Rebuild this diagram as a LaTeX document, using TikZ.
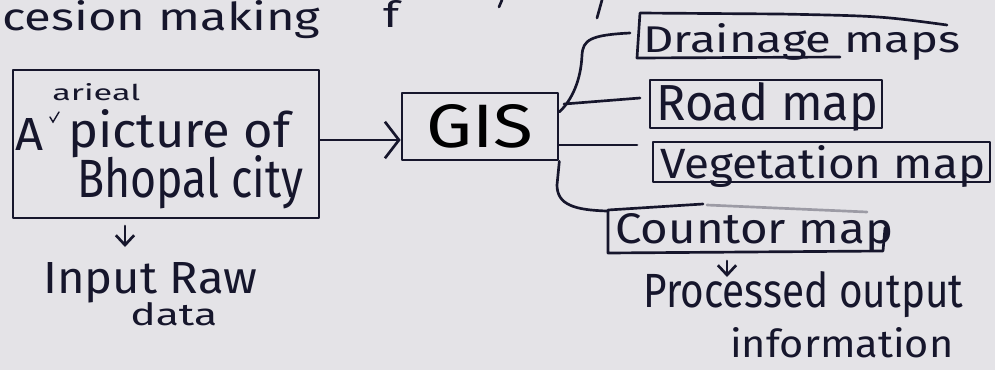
\documentclass[tikz,border=0pt]{standalone}
\usepackage{fontspec}
\setmainfont{Fira Sans}
\usetikzlibrary{arrows.meta}
\newdimen\px \px=0.025cm
\definecolor{paper}{HTML}{E4E3E7}
\definecolor{ink}{HTML}{16162C}
% handwritten-size label: width, height (in px) and text
\newcommand{\hw}[3]{\resizebox{#1\px}{#2\px}{#3}}
\tikzset{
  ln/.style={draw=ink, line width=1.9pt, line cap=round, line join=round},
  frame/.style={ln, rectangle, inner sep=0pt},
  hw/.style={inner sep=0pt, anchor=base west, text=ink},
  arr/.style={ln, -{Straight Barb[length=10pt, width=26pt]}},
  arrsmall/.style={ln, -{Straight Barb[length=7pt, width=13pt]}}
}
\begin{document}
\begin{tikzpicture}[x=0.025cm, y=-0.025cm]
\fill[paper] (0,0) rectangle (995,370);
\useasboundingbox (0,0) rectangle (995,370);

% heading fragment
\node[hw] (head) at (2,30) {\hw{318}{30}{cesion making}};
\node[hw] (fr) at (383,27) {\hw{16}{27}{f}};
\draw[ln] (502,0) -- (499,7);
\draw[ln] (602,0) -- (597,18);

% input image box
\node[frame, minimum width=306\px, minimum height=148\px] (photo) at (166,144) {};
\node[hw] (aer) at (52,100) {\hw{88}{17}{arieal}};
\node[hw] (la) at (15,150) {\hw{28}{32}{A}};
\draw[ink, line width=1pt, line cap=round] (50,117) -- (53,122) -- (59,112);
\node[hw] (pic) at (68,147) {\hw{222}{38}{picture of}};
\node[hw] (bho) at (77,197) {\hw{226}{42}{Bhopal city}};

% raw data
\coordinate (d0) at (125,226);
\coordinate (d1) at (125,247);
\draw[arrsmall] (d0) -- (d1);
\node[hw] (inp) at (43,293) {\hw{214}{31}{Input Raw}};
\node[hw] (dat) at (130,325) {\hw{87}{23}{data}};

% GIS
\node[frame, minimum width=156\px, minimum height=67\px] (gis) at (480,126.5) {\hw{107}{43}{GIS}};
\coordinate (a) at (0,140);
\draw[arr] (photo.east |- a) -- (gis.west |- a);

% output maps
\node[hw] (drain) at (643,52) {\hw{317}{29}{Drainage maps}};
\draw[ln] (947,25) .. controls (880,16) .. (780,14) -- (640,13) -- (637,58) -- (840,57);

\node[frame, minimum width=232\px, minimum height=48\px] (road) at (766,104) {};
\node[hw] (roadt) at (656,120) {\hw{222}{38}{Road map}};

\node[frame, minimum width=337\px, minimum height=40\px] (veg) at (821.5,162) {};
\node[hw] (vegt) at (660,178) {\hw{325}{33}{Vegetation map}};

\node[hw] (cont) at (615,243) {\hw{278}{30}{Countor map}};
\draw[ln] (885,228) -- (883,251) -- (608,253) -- (608,210) -- (703,204);
\draw[ln, draw opacity=0.35] (707,205) -- (867,212);

% branches leaving GIS
\coordinate (jd) at (0,112);
\coordinate (de) at (630,33);
\draw[ln] (gis.east |- jd) .. controls (572,100) and (581,80) .. (582,55)
  .. controls (583,40) and (590,35) .. (de);
\coordinate (jr) at (564,104);
\coordinate (re) at (640,98);
\draw[ln] (jr) -- (re);
\coordinate (ve) at (637,145);
\draw[ln] (gis.east |- ve) -- (ve);
\coordinate (ce) at (607,211);
\draw[ln] (gis.south east) -- (557,185) .. controls (557,205) and (575,210) .. (ce);

% processed output
\coordinate (p0) at (727,261);
\coordinate (p1) at (727,277);
\draw[arrsmall] (p0) -- (p1);
\node[hw] (proc) at (643,307) {\hw{320}{36}{Processed output}};
\node[hw] (info) at (730,357) {\hw{223}{30}{information}};
\end{tikzpicture}
\end{document}
